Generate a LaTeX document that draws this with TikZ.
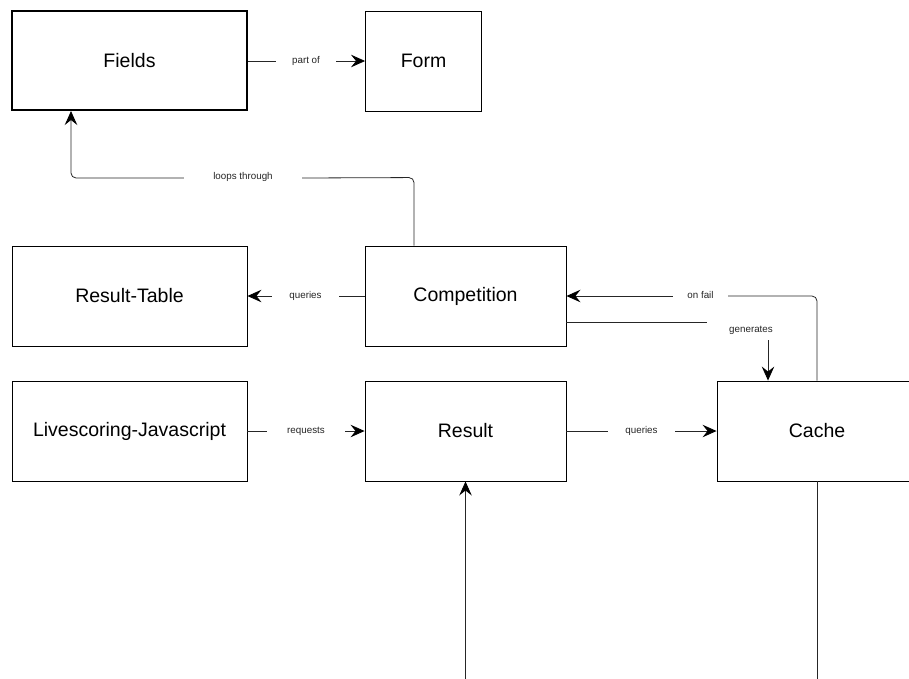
\documentclass[tikz,border=0pt]{standalone}
\usepackage{fontspec}
\setmainfont{Liberation Sans}
\usetikzlibrary{arrows.meta}
\tikzset{
  tipsharp/.tip={Stealth[length=14pt,width=12.5pt,inset=5pt,black]},
}
\begin{document}
\begin{tikzpicture}[x=1pt,y=-1pt,
  box/.style={draw=black, line width=0.9pt, fill=white, minimum height=100pt,
    inner sep=0pt, font=\fontsize{19.5}{22}\selectfont},
  edge/.style={draw=black!85, line width=0.8pt},
  arr/.style={edge, arrows={-tipsharp}},
  lbl/.style={fill=white, inner sep=0pt, minimum height=14pt,
    font=\fontsize{9.8}{11}\selectfont, text=black!85}]
\useasboundingbox (0,0) rectangle (909,678);
\clip (0,0) rectangle (909,678);

% boxes
\node[box, line width=2pt, minimum width=235pt, minimum height=99pt] (fields) at (129.5,60.5) {Fields};
\node[box, minimum width=116pt] (form) at (423.5,61) {Form};
\node[box, minimum width=235pt] (rtable) at (129.5,296) {Result-Table};
\node[box, minimum width=201pt] (comp) at (465.5,296) {Competition};
\node[box, minimum width=235pt] (live) at (129.5,431) {Livescoring-Javascript};
\node[box, minimum width=201pt] (result) at (465.5,431) {Result};
\node[box, minimum width=200pt] (cache) at (817,431) {Cache};

% labels first, connectors drawn over them so the tips stay whole
\node[lbl, minimum width=60pt] (lpart) at (306,61) {part of};
\node[lbl, minimum width=118pt] (lloops) at (243,177) {loops through};
\node[lbl, minimum width=67pt] (lq1) at (305.5,296) {queries};
\node[lbl, minimum width=55pt] (lfail) at (700.5,295) {on fail};
\node[lbl, minimum width=88pt, minimum height=20pt] (lgen) at (751,330) {generates};
\node[lbl, minimum width=78pt] (lreq) at (306,431) {requests};
\node[lbl, minimum width=67pt] (lq2) at (641.5,431) {queries};

% connectors, each split around its label
\draw[edge] (fields.east |- form.west) -- (lpart.west);
\draw[arr] (lpart.east) -- (form.west);

\draw[edge, rounded corners=5pt] ([xshift=-51.5pt]comp.north) -- ++(0,-68) -- (lloops.east |- 0,178);
\draw[arr, rounded corners=5pt] (lloops.west |- 0,178) -| ([xshift=-58.5pt]fields.south);

\draw[edge] (comp.west) -- (lq1.east);
\draw[arr] (lq1.west) -- (rtable.east);

\draw[edge, rounded corners=5pt] (cache.north) |- (lfail.east |- comp.east);
\draw[arr] (lfail.west |- comp.east) -- (comp.east);

\draw[edge] ([yshift=-26pt]comp.east) -- (lgen.west |- 0,322);
\draw[arr] (lgen.south -| 768,0) -- ([xshift=-49pt]cache.north);

\draw[edge] (live.east) -- (lreq.west);
\draw[arr] (lreq.east) -- (result.west);

\draw[edge] (result.east) -- (lq2.west);
\draw[arr] (lq2.east) -- (cache.west);

\coordinate (rin) at (465.5,690);
\draw[arr] (rin) -- (result.south);
\coordinate (cout) at (817,690);
\draw[edge] (cache.south) -- (cout);
\end{tikzpicture}
\end{document}
